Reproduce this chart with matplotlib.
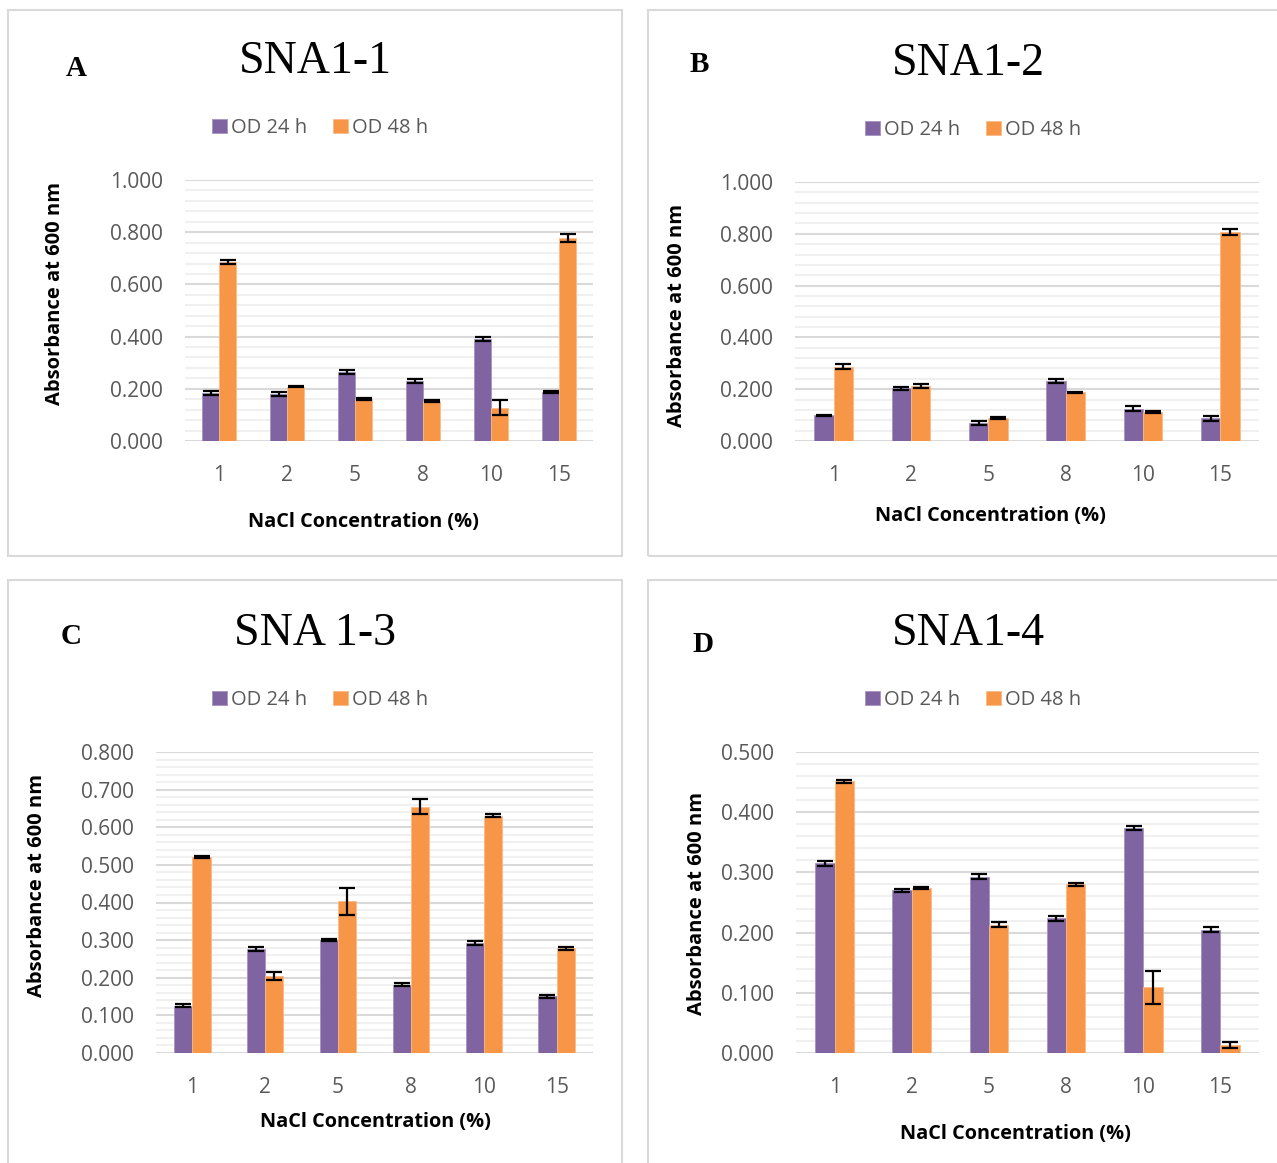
import matplotlib
matplotlib.use('Agg')
import matplotlib.pyplot as plt
from matplotlib.patches import Rectangle
from matplotlib.ticker import MultipleLocator
import numpy as np

W, H = 1277, 1163

conc = ["1", "2", "5", "8", "10", "15"]

# SNA1-1
a24 = [0.183, 0.180, 0.263, 0.229, 0.391, 0.187]
a24_err = [0.008, 0.006, 0.008, 0.008, 0.007, 0.003]
a48 = [0.686, 0.208, 0.161, 0.153, 0.128, 0.778]
a48_err = [0.008, 0.002, 0.002, 0.004, 0.029, 0.015]

# SNA1-2
b24 = [0.100, 0.203, 0.071, 0.232, 0.125, 0.087]
b24_err = [0.002, 0.006, 0.008, 0.008, 0.009, 0.009]
b48 = [0.287, 0.213, 0.088, 0.188, 0.113, 0.807]
b48_err = [0.010, 0.007, 0.003, 0.003, 0.004, 0.012]

# SNA 1-3
c24 = [0.125, 0.277, 0.301, 0.182, 0.293, 0.151]
c24_err = [0.004, 0.006, 0.003, 0.004, 0.006, 0.004]
c48 = [0.521, 0.205, 0.403, 0.655, 0.631, 0.278]
c48_err = [0.003, 0.011, 0.036, 0.021, 0.003, 0.003]

# SNA1-4
d24 = [0.315, 0.270, 0.293, 0.224, 0.374, 0.205]
d24_err = [0.0045, 0.002, 0.0036, 0.004, 0.003, 0.004]
d48 = [0.451, 0.274, 0.213, 0.280, 0.109, 0.013]
d48_err = [0.003, 0.002, 0.0045, 0.002, 0.028, 0.0045]

PURPLE = "#8064A2"
ORANGE = "#F79646"
GREY = "#595959"
SANS = "Open Sans"
SERIF = "Liberation Serif"


def fx(x):
    return x / W


def fy(y):
    return 1 - y / H


fig = plt.figure(figsize=(W / 100, H / 100), dpi=100)

# panel frames
for x0, y0, x1, y1 in [(8, 10, 622, 556), (648, 10, 1280, 556),
                       (8, 580, 622, 1170), (648, 580, 1280, 1170)]:
    fig.patches.append(Rectangle((fx(x0), fy(y1)), fx(x1 - x0), (y1 - y0) / H,
                                 transform=fig.transFigure, fill=False,
                                 edgecolor="#D9D9D9", linewidth=1.5))


def panel(box, v24, e24, v48, e48, ymax, major, minor, title, letter,
          title_xy, letter_xy, leg_xy, ylab_xy, xlab_xy):
    left, top, right, bottom = box
    ax = fig.add_axes([fx(left), fy(bottom), fx(right - left), (bottom - top) / H])
    x = np.arange(len(conc))
    w = 0.25
    ekw = dict(ecolor="black", elinewidth=1.6, capsize=5.5, capthick=1.6)
    ax.bar(x - w / 2, v24, w, color=PURPLE, edgecolor="#A794C0", linewidth=0.6,
           yerr=e24, error_kw=ekw, label="OD 24 h", zorder=3)
    ax.bar(x + w / 2, v48, w, color=ORANGE, edgecolor="#FAB98A", linewidth=0.6,
           yerr=e48, error_kw=ekw, label="OD 48 h", zorder=3)
    ax.set_xlim(-0.5, len(conc) - 0.5)
    ax.set_ylim(0, ymax)
    ax.yaxis.set_major_locator(MultipleLocator(major))
    ax.yaxis.set_minor_locator(MultipleLocator(minor))
    ticks = ax.get_yticks()
    ax.set_yticks(ticks)
    ax.set_yticklabels([f"{t:.3f}" for t in ticks])
    ax.set_ylim(0, ymax)
    ax.set_xticks(x)
    ax.set_xticklabels(conc)
    ax.grid(axis="y", which="major", color="#D9D9D9", linewidth=1.5, zorder=0)
    ax.grid(axis="y", which="minor", color="#F0F0F0", linewidth=1.5, zorder=0)
    ax.set_axisbelow(True)
    for s in ax.spines.values():
        s.set_visible(False)
    ax.tick_params(which="both", length=0, colors=GREY, labelsize=15)
    ax.tick_params(axis="y", pad=16)
    ax.tick_params(axis="x", pad=17)
    for lab in ax.get_xticklabels() + ax.get_yticklabels():
        lab.set_fontfamily(SANS)

    fig.text(fx(title_xy[0]), fy(title_xy[1]), title, family=SERIF, fontsize=33,
             ha="center", va="center")
    fig.text(fx(letter_xy[0]), fy(letter_xy[1]), letter, family=SERIF, fontsize=21,
             fontweight="bold", ha="center", va="center")
    fig.text(fx(ylab_xy[0]), fy(ylab_xy[1]), "Absorbance at 600 nm", family=SANS,
             fontsize=14.5, fontweight="bold", rotation=90, ha="center", va="center")
    fig.text(fx(xlab_xy[0]), fy(xlab_xy[1]), "NaCl Concentration (%)", family=SANS,
             fontsize=14.3, fontweight="bold", ha="center", va="center")
    h, l = ax.get_legend_handles_labels()
    leg = fig.legend(h, l, loc="center", bbox_to_anchor=(fx(leg_xy[0]), fy(leg_xy[1])),
                     ncol=2, frameon=False, handlelength=0.75, handleheight=0.75,
                     handletextpad=0.2, columnspacing=1.3,
                     prop=dict(family=SANS, size=14.5))
    for t in leg.get_texts():
        t.set_color(GREY)
    return ax


panel((185, 180, 593, 441), a24, a24_err, a48, a48_err, 1.0, 0.2, 0.04,
      "SNA1-1", "A", (315, 62), (76, 68), (320, 128), (55, 293), (363, 522))
panel((795, 182, 1259, 441), b24, b24_err, b48, b48_err, 1.0, 0.2, 0.04,
      "SNA1-2", "B", (968, 64), (699, 64), (973, 130), (677, 315), (990, 516))
panel((156, 752, 593, 1053), c24, c24_err, c48, c48_err, 0.8, 0.1, 0.02,
      "SNA 1-3", "C", (315, 634), (71, 636), (320, 700), (37, 885), (375, 1122))
panel((796, 752, 1259, 1053), d24, d24_err, d48, d48_err, 0.5, 0.1, 0.02,
      "SNA1-4", "D", (968, 634), (703, 644), (973, 700), (697, 903), (1015, 1134))

fig.savefig("out.png", dpi=100, facecolor="white")
